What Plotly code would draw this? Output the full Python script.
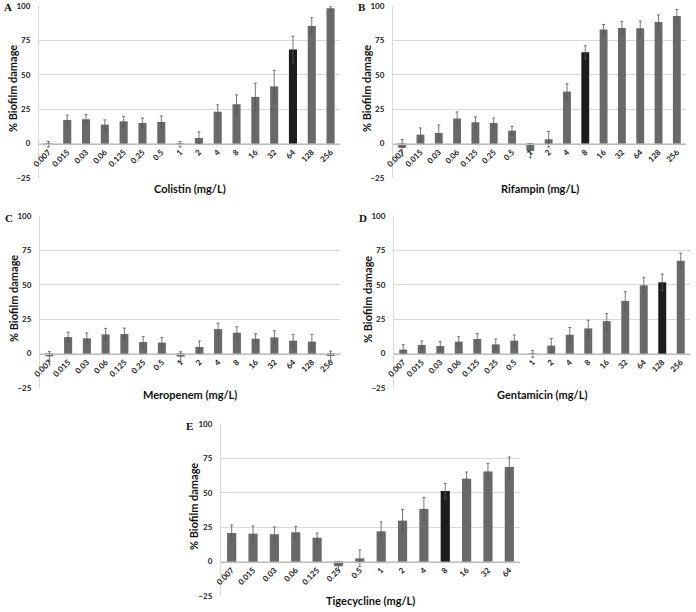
import plotly.graph_objects as go

conc16 = ["0.007", "0.015", "0.03", "0.06", "0.125", "0.25", "0.5", "1", "2", "4", "8", "16", "32", "64", "128", "256"]
conc14 = ["0.007", "0.015", "0.03", "0.06", "0.125", "0.25", "0.5", "1", "2", "4", "8", "16", "32", "64"]

colistin = [-0.5, 17.2, 17.7, 13.8, 16.2, 15.0, 15.7, -0.5, 4.1, 23.2, 28.6, 33.9, 41.6, 68.3, 85.5, 98.3]
colistin_err = [2.0, 3.5, 3.4, 3.4, 3.6, 3.6, 4.4, 2.0, 4.4, 5.0, 6.8, 10.0, 11.6, 9.7, 6.0, 1.7]

rifampin = [-3.1, 6.5, 7.7, 18.2, 15.5, 15.0, 9.4, -5.3, 3.1, 37.8, 66.3, 83.0, 84.0, 83.8, 88.4, 92.7]
rifampin_err = [6.0, 4.9, 5.8, 4.8, 3.9, 3.6, 3.1, 5.0, 5.6, 5.6, 4.8, 3.6, 4.8, 5.3, 5.1, 4.8]

meropenem = [-2.0, 12.0, 11.1, 14.0, 14.2, 8.4, 8.0, -2.2, 4.8, 17.8, 15.2, 10.8, 11.8, 9.4, 8.7, -1.7]
meropenem_err = [3.5, 3.6, 3.9, 4.3, 4.3, 3.9, 3.6, 3.5, 4.3, 4.3, 4.3, 3.6, 4.8, 4.6, 5.3, 3.5]

gentamicin = [2.9, 6.3, 5.5, 8.7, 10.6, 6.7, 9.4, -0.3, 5.8, 13.7, 18.3, 23.6, 38.3, 49.6, 51.8, 67.5]
gentamicin_err = [3.6, 2.9, 3.1, 3.6, 3.9, 3.9, 4.1, 2.5, 5.1, 5.3, 6.0, 5.5, 6.7, 5.8, 6.0, 5.5]

tigecycline = [20.8, 20.3, 19.9, 21.3, 17.4, -3.4, 2.4, 22.0, 29.8, 38.3, 51.3, 60.3, 65.4, 68.8]
tigecycline_err = [5.8, 5.6, 5.3, 4.4, 3.4, 3.0, 6.0, 6.8, 8.2, 8.2, 5.6, 4.8, 6.0, 7.3]

# highlighted (MBEC) concentration per panel
highlight = {"A": "64", "B": "8", "C": None, "D": "128", "E": "8"}

y_ticks = [-25, 0, 25, 50, 75, 100]

W, H = 696, 612
GRAY = "#696969"
BLACK = "#1c1c1c"

panels = [
    # letter, cats, vals, errs, title, x0px, x1px, ytop_px, ybot_px, title offset px
    ("A", conc16, colistin, colistin_err, "Colistin (mg/L)", 39, 340, 6, 178, 10),
    ("B", conc16, rifampin, rifampin_err, "Rifampin (mg/L)", 393, 686, 6, 178, 10),
    ("C", conc16, meropenem, meropenem_err, "Meropenem (mg/L)", 40, 340, 216, 388, 7),
    ("D", conc16, gentamicin, gentamicin_err, "Gentamicin (mg/L)", 394, 690, 216, 388, 7),
    ("E", conc14, tigecycline, tigecycline_err, "Tigecycline (mg/L)", 221, 520, 424, 596, 4),
]

fig = go.Figure()
FONT = "Lato, Open Sans, sans-serif"
layout = dict(
    width=W, height=H, margin=dict(l=0, r=0, t=0, b=0, pad=0, autoexpand=False),
    paper_bgcolor="white", plot_bgcolor="white", showlegend=False,
    font=dict(family=FONT, color="#222"), bargap=0.57,
)
annotations = []

for i, (letter, cats, vals, errs, title, x0, x1, yt, yb, toff) in enumerate(panels):
    n = "" if i == 0 else str(i + 1)
    xa, ya = "x" + n, "y" + n
    colors = [BLACK if c == highlight[letter] else GRAY for c in cats]
    fig.add_trace(go.Bar(
        x=cats, y=vals, xaxis=xa, yaxis=ya,
        marker=dict(color=colors, line=dict(width=0)),
        error_y=dict(type="data", array=errs, visible=True, color="#555", thickness=0.8, width=1.5),
    ))
    dx0, dx1 = x0 / W, x1 / W
    dy0, dy1 = 1 - yb / H, 1 - yt / H
    zero_pos = dy0 + (dy1 - dy0) * 0.2
    layout["xaxis" + n] = dict(
        domain=[dx0, dx1], anchor="free", position=zero_pos, type="category",
        tickangle=-45, tickfont=dict(family=FONT, size=8, color="#222", weight="bold"),
        showline=True, linecolor="#bdbdbd", linewidth=1, showgrid=False,
        ticks="", fixedrange=True, automargin=False,
    )
    layout["yaxis" + n] = dict(
        domain=[dy0, dy1], anchor=xa, range=[-25, 100], tickvals=y_ticks,
        tickfont=dict(family=FONT, size=8, color="#222", weight="bold"),
        showgrid=True, gridcolor="#d9d9d9", gridwidth=1, zeroline=False,
        showline=True, linecolor="#d9d9d9", linewidth=1, ticks="",
        ticklabelstandoff=6, automargin=False, fixedrange=True,
    )
    # x-axis title
    annotations.append(dict(
        text=title, xref="paper", yref="paper", x=(dx0 + dx1) / 2,
        y=dy0 - toff / H, xanchor="center", yanchor="middle", showarrow=False,
        font=dict(family=FONT, size=11, color="#111", weight="bold"),
    ))
    # y-axis title
    annotations.append(dict(
        text="% Biofilm damage", xref="paper", yref="paper", x=(x0 - 27) / W,
        y=(dy0 + dy1) / 2 + 3 / H, xanchor="center", yanchor="middle", textangle=-90,
        showarrow=False, font=dict(family=FONT, size=11, color="#111", weight="bold"),
    ))
    # panel letter
    annotations.append(dict(
        text="<b>" + letter + "</b>", xref="paper", yref="paper", x=(x0 - 37) / W,
        y=1 - (yt + 1.5) / H, xanchor="left", yanchor="middle", showarrow=False,
        font=dict(family="Liberation Serif, serif", size=11, color="#111"),
    ))

layout["annotations"] = annotations
fig.update_layout(**layout)
fig.write_html(
    "out.html",
    config={"displayModeBar": False, "staticPlot": True},
    post_script="document.body.style.margin='0';document.body.style.overflow='hidden';",
)
